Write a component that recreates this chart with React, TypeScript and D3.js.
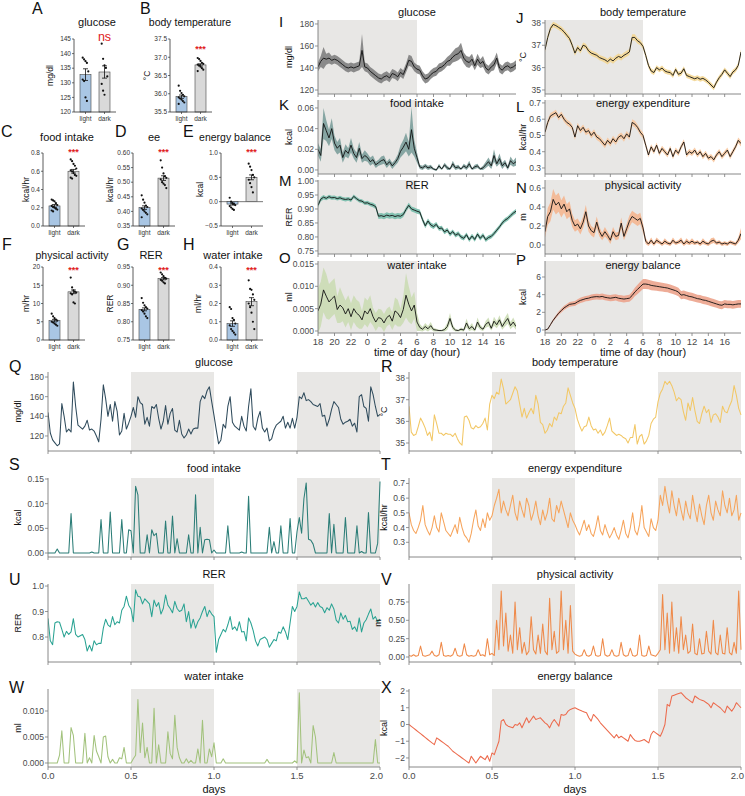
import React from "react";
import * as d3 from "d3";

const FONT = "'Liberation Sans', Arial, Helvetica, sans-serif";
const SHADE = "#e8e7e5";
const AXIS = "#7a7a7a";
const TICKTXT = "#4a4a4a";
const RED = "#e0201b";

// ================= A–H : light vs dark phase summaries =================
const phases = ["light", "dark"];
const glucoseMeans = [132.8, 133.7];
const glucoseSems = [2.0, 2.1];
const glucoseLightPts = [138.6, 138.0, 137.4, 136.8, 133.9, 131.1, 130.6, 125.0, 123.8];
const glucoseDarkPts = [143.4, 138.2, 136.0, 135.1, 132.2, 129.6, 127.3, 125.9];

const tempMeans = [35.92, 36.79];
const tempSems = [0.045, 0.03];
const tempLightPts = [36.22, 36.08, 36.02, 35.97, 35.93, 35.9, 35.87, 35.84, 35.8, 35.76, 35.72];
const tempDarkPts = [36.98, 36.95, 36.9, 36.85, 36.82, 36.8, 36.78, 36.74, 36.7, 36.66, 36.62];

const foodMeans = [0.22, 0.6];
const foodSems = [0.015, 0.02];
const foodLightPts = [0.29, 0.28, 0.27, 0.25, 0.23, 0.22, 0.21, 0.2, 0.19, 0.18, 0.17, 0.16];
const foodDarkPts = [0.73, 0.71, 0.68, 0.66, 0.63, 0.61, 0.6, 0.58, 0.56, 0.55, 0.53, 0.52];

const eeMeans = [0.413, 0.514];
const eeSems = [0.006, 0.008];
const eeLightPts = [0.455, 0.44, 0.43, 0.42, 0.415, 0.41, 0.405, 0.4, 0.395, 0.39, 0.38];
const eeDarkPts = [0.575, 0.55, 0.53, 0.52, 0.515, 0.51, 0.5, 0.495, 0.49, 0.48];

const ebMeans = [-0.05, 0.5];
const ebSems = [0.02, 0.05];
const ebLightPts = [0.08, 0.0, -0.03, -0.05, -0.07, -0.09, -0.12, -0.15, -0.17];
const ebDarkPts = [0.78, 0.72, 0.65, 0.55, 0.5, 0.45, 0.38, 0.3, 0.19];

const paMeans = [5.3, 13.2];
const paSems = [0.35, 0.5];
const paLightPts = [7.2, 6.5, 6.0, 5.6, 5.3, 5.0, 4.8, 4.5, 4.2, 3.9];
const paDarkPts = [17.1, 14.4, 13.6, 13.2, 13.0, 12.8, 12.5, 10.3, 10.0];

const rerMeans = [0.834, 0.918];
const rerSems = [0.004, 0.003];
const rerLightPts = [0.865, 0.852, 0.845, 0.84, 0.836, 0.832, 0.828, 0.822, 0.815, 0.81];
const rerDarkPts = [0.935, 0.93, 0.925, 0.92, 0.918, 0.915, 0.912, 0.908, 0.905];

const waterMeans = [0.09, 0.21];
const waterSems = [0.015, 0.022];
const waterLightPts = [0.18, 0.17, 0.12, 0.11, 0.09, 0.08, 0.06, 0.05, 0.04, 0.03];
const waterDarkPts = [0.327, 0.28, 0.275, 0.25, 0.22, 0.2, 0.18, 0.15, 0.1, 0.06];

// ================= I–P : 24 h averaged profiles (20-min bins, from 18:00) =================
const hourLabels = [18, 20, 22, 0, 2, 4, 6, 8, 10, 12, 14, 16];

const glucoseDayMean = [141,146,149,148,149,147,148,147,145,143,141,140,141,140,141,142,156,141,140,137,135,133,131,130,132,133,131,135,134,132,136,134,140,147,146,141,
139,138,133,130,131,134,136,137,140,141,143,146,147,150,152,153,156,149,146,145,148,142,148,144,146,140,138,141,143,149,140,138,141,142,140,141,143];
const glucoseDaySem = [4,5,10,5,5,4,4,4,4,4,4,4,4,4,4,4,15,4,4,4,4,4,4,4,4,4,4,4,4,4,4,4,4,5,5,4,
4,4,4,4,4,4,4,4,4,4,4,4,5,5,6,6,7,5,5,5,5,4,5,4,5,4,4,4,5,5,4,4,4,4,4,4,4];

const foodDayMean = [0.020,0.014,0.045,0.038,0.031,0.040,0.026,0.021,0.024,0.012,0.019,0.016,0.024,0.016,0.012,0.021,0.011,0.014,0.012,0.008,0.010,0.005,0.007,0.009,0.010,0.005,0.008,0.004,0.007,0.011,0.018,0.022,0.027,0.020,0.039,0.021,0.012,
0.003,0.002,0.004,0.002,0.003,0.001,0.000,0.004,0.001,0.005,0.002,0.001,0.006,0.002,0.003,0.001,0.004,0.002,0.006,0.001,0.003,0.004,0.001,0.002,0.005,0.008,0.004,0.014,0.006,0.011,0.004,0.007,0.002,0.009,0.006,0.008];
const foodDaySem = [0.006,0.006,0.015,0.010,0.008,0.010,0.007,0.006,0.007,0.005,0.006,0.005,0.007,0.005,0.005,0.006,0.004,0.005,0.004,0.004,0.004,0.003,0.003,0.004,0.004,0.003,0.003,0.003,0.003,0.004,0.006,0.007,0.009,0.007,0.022,0.008,0.005,
0.002,0.002,0.002,0.002,0.002,0.001,0.001,0.002,0.001,0.002,0.002,0.001,0.003,0.002,0.002,0.001,0.002,0.002,0.003,0.001,0.002,0.002,0.001,0.002,0.003,0.004,0.003,0.006,0.003,0.005,0.003,0.003,0.002,0.004,0.003,0.004];

const rerDayMean = [0.913,0.935,0.942,0.938,0.944,0.940,0.941,0.937,0.940,0.936,0.934,0.936,0.932,0.945,0.937,0.930,0.928,0.921,0.922,0.917,0.914,0.908,0.874,0.876,0.873,0.878,0.875,0.877,0.873,0.876,0.874,0.880,0.898,0.913,0.900,0.896,0.892,
0.889,0.862,0.840,0.857,0.843,0.837,0.845,0.830,0.832,0.818,0.825,0.810,0.819,0.806,0.812,0.800,0.795,0.808,0.790,0.803,0.791,0.810,0.795,0.806,0.790,0.798,0.802,0.812,0.824,0.836,0.850,0.860,0.866,0.876,0.885,0.892];
const rerDaySem = [0.008,0.008,0.008,0.007,0.007,0.007,0.007,0.007,0.007,0.007,0.007,0.007,0.007,0.007,0.007,0.007,0.007,0.007,0.007,0.007,0.008,0.008,0.010,0.010,0.010,0.010,0.010,0.010,0.010,0.010,0.010,0.009,0.009,0.009,0.009,0.009,0.009,
0.009,0.009,0.009,0.009,0.009,0.009,0.008,0.008,0.008,0.008,0.008,0.008,0.008,0.008,0.008,0.008,0.008,0.008,0.008,0.008,0.008,0.008,0.008,0.008,0.008,0.008,0.008,0.008,0.008,0.008,0.008,0.008,0.008,0.008,0.008,0.008];

const waterDayMean = [0.0045,0.0060,0.0092,0.0078,0.0065,0.0072,0.0078,0.0048,0.0058,0.0052,0.0038,0.0050,0.0032,0.0050,0.0040,0.0035,0.0025,0.0045,0.0038,0.0050,0.0032,0.0020,0.0030,0.0028,0.0018,0.0030,0.0035,0.0022,0.0045,0.0040,0.0030,0.0048,0.0080,0.0060,0.0045,0.0058,0.0020,
0.0008,0.0004,0.0010,0.0005,0.0012,0.0003,0.0002,0.0001,0.0001,0.0003,0.0010,0.0028,0.0008,0.0002,0.0001,0.0004,0.0002,0.0018,0.0005,0.0010,0.0002,0.0020,0.0008,0.0004,0.0015,0.0020,0.0006,0.0022,0.0014,0.0025,0.0010,0.0020,0.0028,0.0012,0.0020,0.0010];
const waterDaySem = [0.005,0.005,0.005,0.005,0.004,0.004,0.004,0.003,0.004,0.003,0.003,0.003,0.003,0.003,0.003,0.003,0.002,0.003,0.003,0.003,0.002,0.002,0.002,0.002,0.002,0.002,0.002,0.002,0.003,0.003,0.002,0.003,0.005,0.004,0.003,0.003,0.002,
0.0008,0.0005,0.0008,0.0006,0.0008,0.0004,0.0003,0.0002,0.0002,0.0004,0.0008,0.0012,0.0006,0.0003,0.0002,0.0004,0.0003,0.0010,0.0005,0.0008,0.0003,0.0010,0.0006,0.0004,0.0008,0.0010,0.0005,0.0010,0.0008,0.0010,0.0007,0.0010,0.0012,0.0008,0.0010,0.0007];

const tempDayMean = [36.8,37.35,37.75,37.93,37.88,37.8,37.72,37.6,37.45,37.3,37.0,36.65,36.9,36.75,37.0,36.95,36.75,36.65,36.6,36.55,36.45,36.4,36.35,36.27,36.38,36.3,36.42,36.5,36.45,36.55,36.62,36.7,37.35,37.35,37.2,37.12,36.95,
36.55,36.1,35.85,35.78,36.0,35.9,35.98,35.85,35.8,35.78,35.65,35.92,35.7,35.75,35.95,35.65,35.6,35.55,35.5,35.55,35.48,35.52,35.45,35.35,35.22,35.1,35.35,35.55,35.7,35.9,35.75,35.6,35.8,35.9,36.1,36.7];
const tempDaySem = [0.1,0.12,0.12,0.12,0.12,0.12,0.12,0.12,0.12,0.12,0.12,0.12,0.12,0.12,0.12,0.12,0.12,0.12,0.12,0.12,0.12,0.12,0.13,0.13,0.13,0.13,0.13,0.13,0.13,0.13,0.13,0.13,0.14,0.14,0.13,0.12,0.12,
0.12,0.12,0.11,0.11,0.11,0.11,0.11,0.11,0.11,0.11,0.11,0.11,0.11,0.11,0.11,0.11,0.11,0.11,0.11,0.11,0.11,0.11,0.11,0.11,0.11,0.11,0.11,0.11,0.11,0.11,0.11,0.11,0.11,0.11,0.12,0.12];

const eeDayMean = [0.52,0.58,0.62,0.63,0.64,0.61,0.63,0.60,0.58,0.57,0.55,0.49,0.56,0.53,0.55,0.52,0.53,0.50,0.52,0.49,0.48,0.46,0.44,0.47,0.45,0.48,0.46,0.49,0.50,0.48,0.51,0.49,0.58,0.57,0.55,0.52,0.50,
0.44,0.38,0.43,0.40,0.44,0.39,0.42,0.40,0.38,0.42,0.37,0.41,0.39,0.43,0.46,0.38,0.40,0.39,0.41,0.38,0.40,0.37,0.39,0.36,0.37,0.35,0.38,0.40,0.37,0.39,0.41,0.37,0.40,0.43,0.47,0.45];
const eeDaySem = [0.016,0.018,0.018,0.018,0.018,0.018,0.018,0.018,0.018,0.018,0.018,0.018,0.018,0.018,0.018,0.018,0.018,0.018,0.018,0.018,0.018,0.018,0.018,0.018,0.018,0.018,0.018,0.018,0.018,0.018,0.018,0.018,0.02,0.02,0.018,0.018,0.018,
0.016,0.016,0.016,0.016,0.016,0.016,0.016,0.016,0.016,0.016,0.016,0.016,0.016,0.016,0.016,0.016,0.016,0.016,0.016,0.016,0.016,0.016,0.016,0.016,0.016,0.016,0.016,0.016,0.016,0.016,0.016,0.016,0.016,0.016,0.018,0.018];

const paDayMean = [0.14,0.30,0.35,0.48,0.42,0.45,0.38,0.43,0.35,0.38,0.26,0.20,0.22,0.17,0.24,0.35,0.20,0.15,0.13,0.24,0.14,0.09,0.14,0.10,0.05,0.14,0.09,0.10,0.23,0.09,0.17,0.25,0.30,0.28,0.26,0.28,0.18,
0.04,0.01,0.05,0.01,0.05,0.03,0.01,0.04,0.02,0.01,0.05,0.02,0.03,0.05,0.01,0.04,0.02,0.04,0.02,0.03,0.01,0.04,0.02,0.01,0.04,0.05,0.02,0.03,0.01,0.02,0.01,0.03,0.02,0.01,0.05,0.12];
const paDaySem = [0.06,0.09,0.1,0.11,0.1,0.1,0.09,0.09,0.08,0.08,0.07,0.06,0.06,0.06,0.06,0.07,0.06,0.05,0.05,0.06,0.05,0.04,0.05,0.04,0.04,0.05,0.04,0.04,0.06,0.04,0.05,0.06,0.06,0.06,0.06,0.06,0.05,
0.03,0.02,0.03,0.02,0.03,0.02,0.02,0.03,0.02,0.02,0.03,0.02,0.02,0.03,0.02,0.03,0.02,0.03,0.02,0.02,0.02,0.03,0.02,0.02,0.03,0.03,0.02,0.02,0.02,0.02,0.02,0.02,0.02,0.02,0.03,0.06];

const ebDayMean = [0.0,0.1,0.6,1.1,1.5,1.9,2.2,2.5,2.7,2.9,2.95,3.0,3.2,3.35,3.45,3.55,3.6,3.7,3.75,3.78,3.75,3.8,3.7,3.65,3.6,3.65,3.7,3.6,3.55,3.5,3.55,3.6,3.9,4.3,4.6,4.9,5.2,
5.2,5.15,5.05,5.0,4.95,4.9,4.85,4.8,4.75,4.65,4.55,4.45,4.3,3.95,4.0,3.9,3.8,3.75,3.65,3.55,3.5,3.4,3.35,3.25,3.15,3.05,2.95,2.85,2.8,2.95,2.9,2.9,2.85,2.9,2.95,2.95];
const ebDaySem = [0.05,0.08,0.12,0.15,0.18,0.2,0.22,0.24,0.25,0.26,0.27,0.28,0.29,0.3,0.3,0.31,0.31,0.32,0.32,0.33,0.33,0.34,0.34,0.35,0.35,0.36,0.36,0.37,0.37,0.38,0.38,0.4,0.44,0.48,0.52,0.55,0.56,
0.56,0.55,0.54,0.53,0.52,0.51,0.5,0.5,0.49,0.49,0.48,0.48,0.47,0.47,0.47,0.46,0.46,0.46,0.46,0.45,0.45,0.45,0.45,0.45,0.45,0.45,0.44,0.44,0.44,0.44,0.44,0.44,0.44,0.44,0.44,0.44];

// ================= Q–X : single-animal 2-day traces (20-min bins) =================
const dayTicks = [0, 0.5, 1, 1.5, 2];

const glucoseTrace = [144,123,116,113,110,112,153,140,124,127,124,175,150,131,129,127,130,136,126,127,125,120,114,137,172,158,140,152,135,155,
145,121,125,143,127,133,140,149,139,160,154,152,132,139,130,150,148,152,138,127,135,151,132,143,148,126,124,136,122,118,
121,127,122,127,128,128,155,161,158,166,170,155,141,126,112,116,132,128,150,160,134,130,128,126,140,130,125,150,168,130,
126,138,145,128,124,128,115,117,126,131,133,135,140,128,134,128,138,128,139,160,158,164,156,157,155,152,151,150,153,140,
141,130,137,147,155,152,149,137,132,134,135,137,130,133,124,160,162,150,148,135,170,162,150,140,142];

const tempTrace = [36.7,35.5,35.35,35.4,35.75,36.15,35.95,35.7,35.35,35.5,35.1,36.3,35.9,35.45,35.45,35.35,35.45,35.4,35.4,35.3,
35.45,35.2,35.0,34.9,36.2,36.25,36.05,35.7,35.65,35.8,35.7,35.75,35.9,36.15,35.6,36.8,37.2,37.05,37.35,37.25,
37.95,37.5,36.8,36.9,37.0,37.3,37.6,37.4,36.8,36.2,36.6,36.15,36.4,36.6,36.35,37.2,36.8,35.95,35.85,35.45,
35.6,35.9,35.75,36.2,36.05,36.4,36.35,36.7,36.85,37.55,37.2,36.85,36.6,36.1,35.8,35.55,35.75,35.8,36.2,35.8,
35.6,35.65,35.45,35.6,35.35,35.5,35.8,36.15,35.55,35.45,35.35,35.4,35.35,35.25,35.2,35.0,35.25,35.25,35.85,34.95,
35.3,35.4,34.95,35.1,35.35,35.9,36.1,36.2,36.9,37.3,37.5,37.85,37.7,37.85,37.65,37.35,36.95,37.1,37.0,36.45,
36.05,36.85,36.5,37.1,36.5,36.0,35.9,36.35,36.7,36.4,36.55,35.95,36.3,36.35,36.2,35.95,36.7,36.45,36.4,36.7,
36.95,37.65,37.2,36.6,36.3];

const foodTrace = [0,0,0,0,0.008,0,0,0,0,0, 0.080,0,0,0,0,0,0,0,0,0.002, 0,0,0,0.068,0,0,0,0.083,0,0,
0,0,0.068,0,0,0.047,0.045,0,0.135,0.118, 0,0,0,0.037,0,0.047,0.035,0.040,0,0, 0,0.065,0,0,0.075,0,0.029,0,0,0,
0,0.037,0,0,0.118,0,0.052,0,0.027,0.028, 0.027,0,0.006,0,0,0,0,0,0.055,0, 0,0,0,0,0.002,0,0,0.115,0,0,
0,0,0,0,0,0,0.052,0,0.023,0, 0,0.055,0,0,0,0.070,0,0,0.043,0.072, 0.040,0.110,0.142,0.028,0.026,0.018,0,0,0,0,
0,0,0.080,0,0.058,0,0,0,0,0.072, 0,0,0,0,0.055,0,0.003,0,0,0.082, 0,0,0,0.02,0.145];

const eeTrace = [0.50,0.42,0.38,0.36,0.40,0.45,0.55,0.42,0.38,0.35,0.40,0.48,0.40,0.37,0.50,0.44,0.38,0.36,0.34,0.38,0.42,0.36,0.47,0.40,0.35,0.33,0.30,0.36,0.45,0.52,0.41,0.38,0.46,0.40,0.50,0.45,0.48,
0.55,0.60,0.66,0.50,0.58,0.52,0.48,0.55,0.62,0.50,0.45,0.58,0.52,0.47,0.60,0.55,0.45,0.50,0.58,0.48,0.42,0.52,0.45,0.50,0.60,0.46,0.44,0.55,0.50,0.58,0.52,0.46,0.40,0.50,0.45,0.42,
0.38,0.35,0.40,0.45,0.38,0.42,0.36,0.34,0.40,0.48,0.38,0.35,0.42,0.37,0.33,0.36,0.40,0.35,0.32,0.38,0.45,0.36,0.33,0.40,0.50,0.38,0.35,0.42,0.55,0.40,0.37,0.34,0.46,0.40,0.38,0.45,
0.62,0.55,0.68,0.58,0.50,0.65,0.55,0.48,0.60,0.52,0.45,0.58,0.50,0.46,0.62,0.52,0.44,0.56,0.48,0.42,0.55,0.62,0.50,0.45,0.58,0.52,0.48,0.65,0.55,0.50,0.60,0.48,0.52,0.62,0.45,0.50];

const rerTrace = [0.873,0.785,0.770,0.855,0.860,0.858,0.830,0.800,0.822,0.810,0.820,0.872,0.810,0.800,0.805,0.810,0.790,0.745,0.768,0.745,
0.785,0.770,0.775,0.775,0.835,0.870,0.848,0.840,0.880,0.848,0.860,0.855,0.905,0.920,0.960,0.925,0.910,0.860,0.985,0.960,
0.957,0.930,0.950,0.940,0.930,0.880,0.945,0.920,0.935,0.890,0.912,0.965,0.925,0.912,0.895,0.940,0.912,0.900,0.905,0.930,
0.860,0.900,0.835,0.870,0.835,0.860,0.875,0.900,0.920,0.880,0.905,0.890,0.880,0.740,0.790,0.810,0.830,0.820,0.848,0.880,
0.830,0.840,0.825,0.860,0.820,0.822,0.785,0.875,0.855,0.825,0.785,0.765,0.790,0.795,0.800,0.790,0.760,0.775,0.790,0.785,
0.820,0.815,0.840,0.820,0.790,0.855,0.920,0.900,0.920,0.977,0.950,0.950,0.955,0.940,0.925,0.935,0.918,0.935,0.920,0.915,
0.895,0.915,0.905,0.930,0.910,0.866,0.855,0.895,0.870,0.885,0.860,0.862,0.830,0.840,0.822,0.875,0.820,0.855,0.868,0.890,
0.910,0.870,0.880,0.860,0.870];

const paTrace = [0.02,0.01,0.03,0.01,0.02,0.15,0.02,0.01,0.02,0.03, 0.08,0.02,0.01,0.03,0.20,0.02,0.01,0.02,0.01,0.03,
0.12,0.02,0.01,0.02,0.18,0.03,0.01,0.02,0.01,0.02, 0.10,0.02,0.03,0.01,0.25,0.03,0.05,0.02,0.50,0.10,
0.90,0.15,0.60,0.08,0.30,0.05,0.75,0.10,0.40,0.05, 0.20,0.03,0.08,0.55,0.10,0.04,0.30,0.05,0.45,0.08,
0.03,0.80,0.10,0.35,0.05,0.08,0.90,0.10,0.50,0.05, 0.70,0.08,0.04,0.02,0.01,0.02,0.10,0.02,0.01,0.03,
0.15,0.02,0.01,0.02,0.25,0.03,0.01,0.02,0.10,0.02, 0.01,0.02,0.20,0.03,0.01,0.02,0.12,0.02,0.01,0.03,
0.30,0.02,0.01,0.02,0.15,0.03,0.02,0.01,0.05,0.10, 0.85,0.10,0.60,0.05,0.75,0.08,0.40,0.05,0.55,0.10,
0.30,0.05,0.08,0.45,0.05,0.03,0.25,0.04,0.05,0.35, 0.08,0.04,0.50,0.06,0.03,0.30,0.05,0.04,0.40,0.06,
0.03,0.20,0.05,0.90,0.10];

const waterTrace = [0,0,0,0,0,0.0015,0.0062,0,0,0, 0.0068,0.0053,0,0,0,0,0.0057,0,0.0010,0,
0.0053,0.0023,0.0012,0,0.0050,0.0052,0.0012,0,0.0007,0, 0,0.0010,0.0008,0.0030,0,0,0,0.0008,0.0015,0.0122,
0.0020,0.0077,0.0010,0.0030,0,0,0.0105,0,0.0035,0, 0,0,0.0060,0.0018,0.0008,0.0092,0.0030,0.0010,0,0,
0.0008,0,0.0005,0,0,0.0027,0,0.0082,0,0, 0.0027,0.0012,0.0039,0,0,0,0.0008,0,0,0,
0,0,0,0,0,0,0,0,0,0, 0,0,0,0,0,0.0007,0,0,0,0,
0,0,0,0,0,0,0,0.0004,0,0.0135, 0,0.0025,0.0010,0.0012,0,0.0072,0.0050,0,0,0,
0,0,0,0,0.0020,0,0,0,0,0, 0,0,0,0,0,0,0,0,0,0, 0,0,0.0045,0,0];

const ebTrace = [0,-0.11,-0.22,-0.33,-0.44,-0.55,-0.66,-0.77,-0.88,-0.99,-1.1,-1.2,-0.8,-0.9,-1.0,-1.1,-1.2,-1.3,-1.45,-1.6,
-1.7,-1.8,-1.9,-2.0,-2.1,-2.2,-2.3,-1.9,-2.1,-2.3,-2.1,-1.9,-2.0,-2.1,-1.86,-2.2,-1.7,-1.8,-1.4,-1.0,
0.2,0.3,0.0,-0.1,-0.15,-0.2,0.0,-0.05,0.1,-0.2,0.1,0.4,0.1,0.3,0.5,0.3,0.35,0.4,0.25,0.1,
0.0,-0.2,0.1,0.3,0.1,-0.1,0.6,0.55,0.6,0.8,0.9,0.95,1.0,0.93,0.86,0.8,0.75,0.7,0.4,0.2,
0.6,0.45,0.3,0.1,-0.05,-0.2,-0.35,-0.5,-0.65,-0.8,-0.6,-0.8,-0.7,-0.8,-0.9,-1.0,-0.6,-0.8,-0.95,-1.0,
-1.0,-0.95,-0.9,-1.0,-1.1,-0.6,-0.4,-0.5,-0.6,-0.7,-0.4,0.0,1.2,1.1,1.7,1.75,1.8,1.85,1.9,1.75,
1.6,1.5,1.4,1.3,1.7,1.6,1.5,1.45,1.4,1.3,1.2,1.0,1.3,1.2,1.1,1.0,0.85,0.7,1.1,0.95,
0.8,1.0,1.3,1.15,1.0];

// ================= layout configuration =================
const barPanels = [
  { letter: "A", lx: 32, ly: 14, title: "glucose", tx: 97, ty: 26, unit: "mg/dl", ux: 53, ax: 74, top: 39, bottom: 112, domain: [120, 145], ticks: [120, 125, 130, 135, 140, 145], fmt: "d", means: glucoseMeans, sems: glucoseSems, pts: [glucoseLightPts, glucoseDarkPts], sig: "ns", sy: 41 },
  { letter: "B", lx: 140, ly: 14, title: "body temperature", tx: 190, ty: 26, unit: "°C", ux: 150, ax: 170, top: 39, bottom: 112, domain: [35.5, 37.5], ticks: [35.5, 36, 36.5, 37, 37.5], fmt: ".1f", means: tempMeans, sems: tempSems, pts: [tempLightPts, tempDarkPts], sig: "***", sy: 52 },
  { letter: "C", lx: 1, ly: 137, title: "food intake", tx: 67, ty: 141, unit: "kcal/hr", ux: 29, ax: 43, top: 153, bottom: 226, domain: [0, 0.8], ticks: [0, 0.2, 0.4, 0.6, 0.8], fmt: ".1f", means: foodMeans, sems: foodSems, pts: [foodLightPts, foodDarkPts], sig: "***", sy: 155 },
  { letter: "D", lx: 115, ly: 137, title: "ee", tx: 154, ty: 141, unit: "kcal/hr", ux: 113, ax: 133, top: 153, bottom: 226, domain: [0.35, 0.6], ticks: [0.35, 0.4, 0.45, 0.5, 0.55, 0.6], fmt: ".2f", means: eeMeans, sems: eeSems, pts: [eeLightPts, eeDarkPts], sig: "***", sy: 155 },
  { letter: "E", lx: 183, ly: 137, title: "energy balance", tx: 235, ty: 141, unit: "kcal", ux: 203, ax: 221, top: 153, bottom: 226, domain: [-0.5, 1.0], ticks: [-0.5, 0, 0.5, 1.0], fmt: ".1f", means: ebMeans, sems: ebSems, pts: [ebLightPts, ebDarkPts], sig: "***", sy: 155, zeroLine: true },
  { letter: "F", lx: 2, ly: 250, title: "physical activity", tx: 72, ty: 259, unit: "m/hr", ux: 29, ax: 43, top: 267, bottom: 340, domain: [0, 20], ticks: [0, 5, 10, 15, 20], fmt: "d", means: paMeans, sems: paSems, pts: [paLightPts, paDarkPts], sig: "***", sy: 273 },
  { letter: "G", lx: 117, ly: 250, title: "RER", tx: 151, ty: 259, unit: "RER", ux: 113, ax: 133, top: 267, bottom: 340, domain: [0.75, 0.95], ticks: [0.75, 0.8, 0.85, 0.9, 0.95], fmt: ".2f", means: rerMeans, sems: rerSems, pts: [rerLightPts, rerDarkPts], sig: "***", sy: 273 },
  { letter: "H", lx: 183, ly: 250, title: "water intake", tx: 233, ty: 259, unit: "ml/hr", ux: 201, ax: 221, top: 267, bottom: 340, domain: [0, 0.4], ticks: [0, 0.1, 0.2, 0.3, 0.4], fmt: ".1f", means: waterMeans, sems: waterSems, pts: [waterLightPts, waterDarkPts], sig: "***", sy: 273 },
];

const dayCols = [{ x0: 318, x1: 516, ux: 292, lx: 279 }, { x0: 545, x1: 741, ux: 526, lx: 516 }];
const dayRows = [{ top: 20, bottom: 94 }, { top: 100, bottom: 174 }, { top: 180, bottom: 254 }, { top: 261, bottom: 333 }];

const dayPanels = [
  { letter: "I", ly: 27, col: 0, row: 0, title: "glucose", ty: 16, unit: "mg/dl", domain: [116.4, 183.6], ticks: [120, 140, 160, 180], fmt: "d", mean: glucoseDayMean, sem: glucoseDaySem, band: "#7f7f7f", bandOp: 0.9 },
  { letter: "K", ly: 110, col: 0, row: 1, title: "food intake", ty: 107, unit: "kcal", domain: [-0.0039, 0.0677], ticks: [0, 0.02, 0.04, 0.06], fmt: ".2f", mean: foodDayMean, sem: foodDaySem, band: "#7c9e9b", bandOp: 0.9 },
  { letter: "M", ly: 186, col: 0, row: 2, title: "RER", ty: 189, unit: "RER", domain: [0.739, 1.0036], ticks: [0.75, 0.8, 0.85, 0.9, 0.95, 1.0], fmt: ".2f", mean: rerDayMean, sem: rerDaySem, band: "#78bcab", bandOp: 0.9 },
  { letter: "O", ly: 263, col: 0, row: 3, title: "water intake", ty: 269, unit: "ml", domain: [-0.00045, 0.01567], ticks: [0, 0.005, 0.01, 0.015], fmt: ".3f", mean: waterDayMean, sem: waterDaySem, band: "#c9dab2", bandOp: 0.85 },
  { letter: "J", ly: 23, col: 1, row: 0, title: "body temperature", ty: 16, unit: "°C", domain: [34.82, 38.13], ticks: [35, 36, 37, 38], fmt: "d", mean: tempDayMean, sem: tempDaySem, band: "#f3d692", bandOp: 0.9 },
  { letter: "L", ly: 112, col: 1, row: 1, title: "energy expenditure", ty: 107, unit: "kcal/hr", domain: [0.263, 0.718], ticks: [0.3, 0.4, 0.5, 0.6, 0.7], fmt: ".1f", mean: eeDayMean, sem: eeDaySem, band: "#f7c8a0", bandOp: 0.9 },
  { letter: "N", ly: 193, col: 1, row: 2, title: "physical activity", ty: 189, unit: "m", domain: [-0.095, 0.684], ticks: [0, 0.2, 0.4, 0.6], fmt: ".1f", mean: paDayMean, sem: paDaySem, band: "#f4b690", bandOp: 0.9 },
  { letter: "P", ly: 265, col: 1, row: 3, title: "energy balance", ty: 269, unit: "kcal", domain: [-0.34, 7.81], ticks: [0, 2, 4, 6], fmt: "d", mean: ebDayMean, sem: ebDaySem, band: "#eca38c", bandOp: 0.9 },
];

const traceCols = [{ x0: 48, x1: 380, ux: 21, lx: 9 }, { x0: 409, x1: 741, ux: 387, lx: 381 }];
const traceRows = [
  { top: 372, bottom: 451, ly: 372, ty: 366 },
  { top: 478, bottom: 557, ly: 470, ty: 472 },
  { top: 584, bottom: 662, ly: 585, ty: 578 },
  { top: 689, bottom: 767, ly: 693, ty: 680 },
];

const tracePanels = [
  { letter: "Q", col: 0, row: 0, title: "glucose", unit: "mg/dl", domain: [104.7, 185.1], ticks: [120, 140, 160, 180], fmt: "d", data: glucoseTrace, color: "#2f4b5c" },
  { letter: "R", col: 1, row: 0, title: "body temperature", unit: "°C", domain: [34.63, 38.28], ticks: [35, 36, 37, 38], fmt: "d", data: tempTrace, color: "#f2c765" },
  { letter: "S", col: 0, row: 1, title: "food intake", unit: "kcal", domain: [-0.0081, 0.152], ticks: [0, 0.05, 0.1, 0.15], fmt: ".2f", data: foodTrace, color: "#2b7d77" },
  { letter: "T", col: 1, row: 1, title: "energy expenditure", unit: "kcal/hr", domain: [0.2, 0.737], ticks: [0.3, 0.4, 0.5, 0.6, 0.7], fmt: ".1f", data: eeTrace, color: "#f6a45c" },
  { letter: "U", col: 0, row: 2, title: "RER", unit: "RER", domain: [0.702, 1.008], ticks: [0.8, 0.9, 1.0], fmt: ".1f", data: rerTrace, color: "#2aa393" },
  { letter: "V", col: 1, row: 2, title: "physical activity", unit: "m", domain: [-0.068, 0.995], ticks: [0, 0.25, 0.5, 0.75], fmt: ".2f", data: paTrace, color: "#ef8a4a", ux: 381 },
  { letter: "W", col: 0, row: 3, title: "water intake", unit: "ml", domain: [-0.00077, 0.01423], ticks: [0, 0.005, 0.01], fmt: ".3f", data: waterTrace, color: "#a2c27c" },
  { letter: "X", col: 1, row: 3, title: "energy balance", unit: "kcal", domain: [-2.54, 2.12], ticks: [-2, -1, 0, 1, 2], fmt: "d", data: ebTrace, color: "#ec6a4c" },
];

// ================= components =================
function BarPanel({ p }: any) {
  const y = d3.scaleLinear().domain(p.domain).range([p.bottom, p.top]);
  const centers = [p.ax + 11.5, p.ax + 30.5];
  const bw = 11;
  const baseVal = p.domain[0] < 0 ? 0 : p.domain[0];
  const base = y(baseVal);
  const fmt = d3.format(p.fmt);
  const fills = ["#a9c6e4", "#d9d9d9"];
  return (
    <g>
      <text x={p.lx} y={p.ly} fontSize={16} fill="#111">{p.letter}</text>
      <text x={p.tx} y={p.ty} fontSize={p.title.length > 12 ? 10.5 : 11} textAnchor="middle" fill="#111">{p.title}</text>
      <text transform={`translate(${p.ux},${(p.top + p.bottom) / 2}) rotate(-90)`} fontSize={8.5} textAnchor="middle" fill="#111">{p.unit}</text>
      {p.zeroLine && <line x1={p.ax} x2={p.ax + 42} y1={y(0)} y2={y(0)} stroke="#555" strokeWidth={0.8} />}
      {phases.map((ph, i) => {
        const yv = y(p.means[i]);
        return (
          <g key={ph}>
            <rect x={centers[i] - bw / 2} y={Math.min(yv, base)} width={bw} height={Math.abs(base - yv)} fill={fills[i]} stroke="#444" strokeWidth={0.6} />
            {p.pts[i].map((v: number, j: number) => (
              <circle key={j} cx={centers[i] + ((j % 5) - 2) * 1.4} cy={y(v)} r={1.1} fill="#111" />
            ))}
            <line x1={centers[i]} x2={centers[i]} y1={y(p.means[i] - p.sems[i])} y2={y(p.means[i] + p.sems[i])} stroke="#111" strokeWidth={0.8} />
            <line x1={centers[i] - 2.5} x2={centers[i] + 2.5} y1={y(p.means[i] + p.sems[i])} y2={y(p.means[i] + p.sems[i])} stroke="#111" strokeWidth={0.8} />
            <line x1={centers[i] - 2.5} x2={centers[i] + 2.5} y1={y(p.means[i] - p.sems[i])} y2={y(p.means[i] - p.sems[i])} stroke="#111" strokeWidth={0.8} />
            <line x1={centers[i]} x2={centers[i]} y1={p.bottom} y2={p.bottom + 2} stroke="#333" strokeWidth={0.7} />
            <text x={centers[i]} y={p.bottom + 9} fontSize={6.5} textAnchor="middle" fill="#333">{ph}</text>
          </g>
        );
      })}
      <line x1={p.ax} x2={p.ax} y1={p.top} y2={p.bottom} stroke="#333" strokeWidth={0.8} />
      <line x1={p.ax} x2={p.ax + 42} y1={p.bottom} y2={p.bottom} stroke="#333" strokeWidth={0.8} />
      {p.ticks.map((t: number) => (
        <g key={t}>
          <line x1={p.ax - 2} x2={p.ax} y1={y(t)} y2={y(t)} stroke="#333" strokeWidth={0.7} />
          <text x={p.ax - 3} y={y(t)} dy="0.35em" fontSize={6.5} textAnchor="end" fill="#333">{fmt(t)}</text>
        </g>
      ))}
      {p.sig === "ns" ? (
        <text x={centers[1]} y={p.sy} fontSize={12.5} textAnchor="middle" fill={RED}>ns</text>
      ) : (
        <text x={centers[1]} y={p.sy} fontSize={9} fontWeight="bold" textAnchor="middle" fill={RED}>{p.sig}</text>
      )}
    </g>
  );
}

function DayPanel({ p }: any) {
  const c = dayCols[p.col];
  const r = dayRows[p.row];
  const x = d3.scaleLinear().domain([0, 24]).range([c.x0, c.x1]);
  const y = d3.scaleLinear().domain(p.domain).range([r.bottom, r.top]);
  const n = p.mean.length;
  const t = (i: number) => (i * 24) / (n - 1);
  const area = d3.area<number>().x((_, i) => x(t(i))).y0((d, i) => y(d - p.sem[i])).y1((d, i) => y(d + p.sem[i]));
  const line = d3.line<number>().x((_, i) => x(t(i))).y((d) => y(d));
  const fmt = d3.format(p.fmt);
  const clip = "dclip" + p.letter;
  const last = p.row === 3;
  return (
    <g>
      <defs>
        <clipPath id={clip}><rect x={c.x0} y={r.top} width={c.x1 - c.x0} height={r.bottom - r.top} /></clipPath>
      </defs>
      <rect x={x(0)} y={r.top} width={x(12) - x(0)} height={r.bottom - r.top} fill={SHADE} />
      <g clipPath={`url(#${clip})`}>
        <path d={area(p.mean) || ""} fill={p.band} opacity={p.bandOp} />
        <path d={line(p.mean) || ""} fill="none" stroke="#111" strokeWidth={0.9} />
      </g>
      <text x={c.lx} y={p.ly} fontSize={15} fill="#111">{p.letter}</text>
      <text x={(c.x0 + c.x1) / 2} y={p.ty} fontSize={11} textAnchor="middle" fill="#111">{p.title}</text>
      <text transform={`translate(${c.ux},${(r.top + r.bottom) / 2}) rotate(-90)`} fontSize={9} textAnchor="middle" fill="#111">{p.unit}</text>
      <line x1={c.x0} x2={c.x0} y1={r.top} y2={r.bottom} stroke={AXIS} strokeWidth={0.9} />
      {p.ticks.map((v: number) => (
        <g key={v}>
          <line x1={c.x0 - 3} x2={c.x0} y1={y(v)} y2={y(v)} stroke={AXIS} strokeWidth={0.8} />
          <text x={c.x0 - 4} y={y(v)} dy="0.35em" fontSize={8.5} textAnchor="end" fill={TICKTXT}>{fmt(v)}</text>
        </g>
      ))}
      <line x1={c.x0} x2={c.x1} y1={r.bottom} y2={r.bottom} stroke={AXIS} strokeWidth={0.9} />
      {hourLabels.map((h, i) => (
        <g key={i}>
          <line x1={x(i * 2)} x2={x(i * 2)} y1={r.bottom} y2={r.bottom + 3} stroke={AXIS} strokeWidth={0.8} />
          {last && <text x={x(i * 2)} y={r.bottom + 12} fontSize={9.5} textAnchor="middle" fill={TICKTXT}>{h}</text>}
        </g>
      ))}
      {last && <text x={(c.x0 + c.x1) / 2} y={r.bottom + 23} fontSize={11} textAnchor="middle" fill="#111">time of day (hour)</text>}
    </g>
  );
}

function TracePanel({ p }: any) {
  const c = traceCols[p.col];
  const r = traceRows[p.row];
  const x = d3.scaleLinear().domain([0, 2]).range([c.x0, c.x1]);
  const y = d3.scaleLinear().domain(p.domain).range([r.bottom, r.top]);
  const n = p.data.length;
  const t = (i: number) => (i * 2) / (n - 1);
  const line = d3.line<number>().x((_, i) => x(t(i))).y((d) => y(d));
  const fmt = d3.format(p.fmt);
  const last = p.row === 3;
  const clip = "tclip" + p.letter;
  const ux = p.ux ?? c.ux;
  return (
    <g>
      <defs>
        <clipPath id={clip}><rect x={c.x0} y={r.top - 2} width={c.x1 - c.x0 + 2} height={r.bottom - r.top + 2} /></clipPath>
      </defs>
      <rect x={x(0.5)} y={r.top} width={x(1) - x(0.5)} height={r.bottom - r.top} fill={SHADE} />
      <rect x={x(1.5)} y={r.top} width={x(2) - x(1.5)} height={r.bottom - r.top} fill={SHADE} />
      <g clipPath={`url(#${clip})`}>
        <path d={line(p.data) || ""} fill="none" stroke={p.color} strokeWidth={1.05} strokeLinejoin="round" />
      </g>
      <text x={c.lx} y={r.ly} fontSize={16} fill="#111">{p.letter}</text>
      <text x={(c.x0 + c.x1) / 2} y={r.ty} fontSize={11} textAnchor="middle" fill="#111">{p.title}</text>
      <text transform={`translate(${ux},${(r.top + r.bottom) / 2}) rotate(-90)`} fontSize={9} textAnchor="middle" fill="#111">{p.unit}</text>
      <line x1={c.x0} x2={c.x0} y1={r.top} y2={r.bottom} stroke={AXIS} strokeWidth={0.9} />
      {p.ticks.map((v: number) => (
        <g key={v}>
          <line x1={c.x0 - 3} x2={c.x0} y1={y(v)} y2={y(v)} stroke={AXIS} strokeWidth={0.8} />
          <text x={c.x0 - 4} y={y(v)} dy="0.35em" fontSize={8.5} textAnchor="end" fill={TICKTXT}>{fmt(v)}</text>
        </g>
      ))}
      <line x1={c.x0} x2={c.x1} y1={r.bottom} y2={r.bottom} stroke={AXIS} strokeWidth={0.9} />
      {dayTicks.map((d) => (
        <g key={d}>
          <line x1={x(d)} x2={x(d)} y1={r.bottom} y2={r.bottom + 3} stroke={AXIS} strokeWidth={0.8} />
          {last && <text x={x(d)} y={r.bottom + 12} fontSize={9.5} textAnchor={d === 2 ? "end" : "middle"} dx={d === 2 ? 3 : 0} fill={TICKTXT}>{d3.format(".1f")(d)}</text>}
        </g>
      ))}
      {last && <text x={(c.x0 + c.x1) / 2} y={r.bottom + 26} fontSize={11} textAnchor="middle" fill="#111">days</text>}
    </g>
  );
}

export default function App() {
  return (
    <svg width={745} height={796} viewBox="0 0 745 796" fontFamily={FONT} style={{ position: "absolute", left: 0, top: 0, background: "#fff" }}>
      {barPanels.map((p) => <BarPanel key={p.letter} p={p} />)}
      {dayPanels.map((p) => <DayPanel key={p.letter} p={p} />)}
      {tracePanels.map((p) => <TracePanel key={p.letter} p={p} />)}
    </svg>
  );
}
